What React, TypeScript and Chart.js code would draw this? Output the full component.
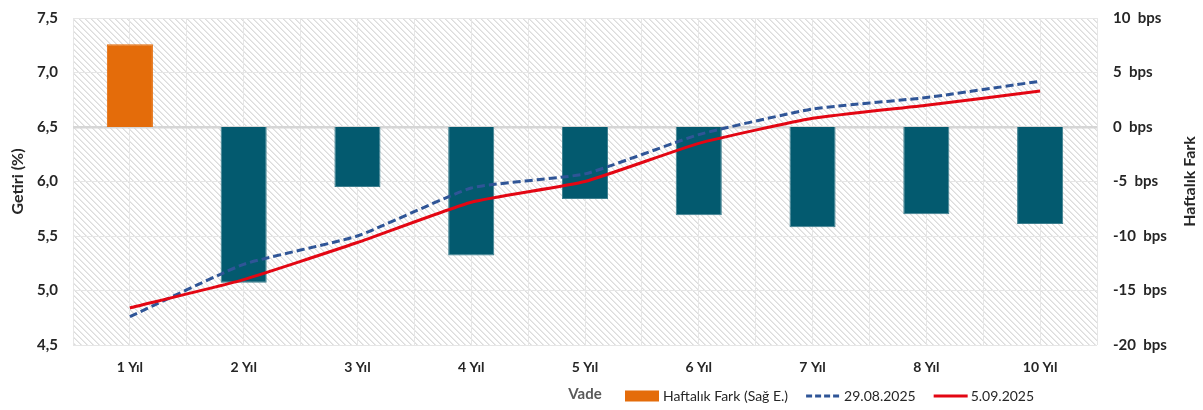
import React, { useEffect, useRef } from 'react';
import { Chart, registerables } from 'chart.js';

Chart.register(...registerables);

const categories = ['1 Yıl', '2 Yıl', '3 Yıl', '4 Yıl', '5 Yıl', '6 Yıl', '7 Yıl', '8 Yıl', '10 Yıl'];
const weeklyDiffBps = [7.6, -14.3, -5.5, -11.8, -6.6, -8.1, -9.2, -8.0, -8.9];
const yield2908 = [4.76, 5.24, 5.5, 5.94, 6.07, 6.43, 6.665, 6.77, 6.92];
const yield0509 = [4.84, 5.1, 5.44, 5.81, 6.0, 6.35, 6.58, 6.7, 6.83];
const leftTickValues = [4.5, 5.0, 5.5, 6.0, 6.5, 7.0, 7.5];
const rightTickValues = [-20, -15, -10, -5, 0, 5, 10];

const barLabel = 'Haftalık Fark (Sağ E.)';
const line1Label = '29.08.2025';
const line2Label = '5.09.2025';
const leftTitle = 'Getiri (%)';
const rightTitle = 'Haftalık Fark';
const xTitle = 'Vade';

const ORANGE = '#E46C0A';
const TEAL = '#035A6F';
const BLUE = '#2F5597';
const RED = '#E30613';
const TEXT = '#262626';
const FONT = 'Lato';

function makePattern(): CanvasPattern | string {
  const c = document.createElement('canvas');
  const n = 6;
  c.width = n;
  c.height = n;
  const g = c.getContext('2d');
  if (!g) return '#f3f3f3';
  const img = g.createImageData(n, n);
  for (let y = 0; y < n; y++) {
    for (let x = 0; x < n; x++) {
      const d = (x - y + n * 4) % n;
      const v = d === 0 ? 220 : d === 1 ? 234 : 255;
      const i = (y * n + x) * 4;
      img.data[i] = v;
      img.data[i + 1] = v;
      img.data[i + 2] = v;
      img.data[i + 3] = 255;
    }
  }
  g.putImageData(img, 0, 0);
  const p = g.createPattern(c, 'repeat');
  return p || '#f3f3f3';
}

export default function App() {
  const ref = useRef<HTMLCanvasElement | null>(null);

  useEffect(() => {
    if (!ref.current) return;
    const pattern = makePattern();

    const bgPlugin = {
      id: 'hatchBg',
      beforeDraw(chart: any) {
        const { ctx, chartArea } = chart;
        ctx.save();
        ctx.fillStyle = pattern;
        ctx.fillRect(chartArea.left, chartArea.top, chartArea.right - chartArea.left, chartArea.bottom - chartArea.top);
        ctx.restore();
      },
    };

    const extrasPlugin = {
      id: 'extras',
      afterDraw(chart: any) {
        const { ctx, chartArea } = chart;
        ctx.save();
        const rx = chart.scales.y1.right - 13;
        ctx.translate(rx, (chartArea.top + chartArea.bottom) / 2);
        ctx.rotate(-Math.PI / 2);
        ctx.font = `bold 16px ${FONT}`;
        ctx.fillStyle = TEXT;
        ctx.textAlign = 'center';
        ctx.textBaseline = 'middle';
        ctx.fillText(rightTitle, 0, 0);
        ctx.restore();

        const ds = chart.data.datasets;
        ctx.save();
        ctx.font = `14px ${FONT}`;
        ctx.textBaseline = 'middle';
        ctx.textAlign = 'left';
        const cy = 396;
        let x = 625;
        const sw = 34;
        ctx.fillStyle = ORANGE;
        ctx.fillRect(x, cy - 5.5, sw, 11);
        x += sw + 4;
        ctx.fillStyle = TEXT;
        ctx.fillText(ds[0].label, x, cy);
        x += ctx.measureText(ds[0].label).width + 18;
        ctx.strokeStyle = BLUE;
        ctx.lineWidth = 3;
        ctx.setLineDash([6, 3]);
        ctx.beginPath();
        ctx.moveTo(x, cy);
        ctx.lineTo(x + sw, cy);
        ctx.stroke();
        x += sw + 4;
        ctx.fillText(ds[1].label, x, cy);
        x += ctx.measureText(ds[1].label).width + 18;
        ctx.setLineDash([]);
        ctx.strokeStyle = RED;
        ctx.beginPath();
        ctx.moveTo(x, cy);
        ctx.lineTo(x + sw, cy);
        ctx.stroke();
        x += sw + 3;
        ctx.fillText(ds[2].label, x, cy);
        ctx.restore();
      },
    };

    const tickFont = { family: FONT, size: 15, weight: 'bold' as const };

    const chart = new Chart(ref.current, {
      type: 'bar',
      data: {
        labels: categories,
        datasets: [
          {
            type: 'bar',
            label: barLabel,
            data: weeklyDiffBps,
            yAxisID: 'y1',
            backgroundColor: weeklyDiffBps.map((v) => (v >= 0 ? ORANGE : TEAL)),
            borderColor: weeklyDiffBps.map((v) => (v >= 0 ? ORANGE : '#3d7f8f')),
            borderWidth: 1,
            categoryPercentage: 1,
            barPercentage: 0.405,
            order: 3,
          } as any,
          {
            type: 'line',
            label: line1Label,
            data: yield2908,
            yAxisID: 'y',
            borderColor: BLUE,
            borderWidth: 3,
            borderDash: [8, 4],
            pointRadius: 0,
            tension: 0.15,
            fill: false,
            order: 2,
          } as any,
          {
            type: 'line',
            label: line2Label,
            data: yield0509,
            yAxisID: 'y',
            borderColor: RED,
            borderWidth: 3,
            pointRadius: 0,
            tension: 0.15,
            fill: false,
            order: 1,
          } as any,
        ],
      },
      options: {
        responsive: true,
        maintainAspectRatio: false,
        animation: false,
        layout: { padding: { left: 5, right: 0, top: 18, bottom: 0 } },
        plugins: {
          legend: { display: false },
          tooltip: { enabled: false },
        },
        scales: {
          x: {
            type: 'category',
            position: 'bottom',
            offset: true,
            grid: { offset: false, color: '#e6e6e6', lineWidth: 1, drawTicks: false },
            border: { display: false },
            ticks: { font: { family: FONT, size: 14, weight: 'bold' }, color: TEXT, padding: 14, maxRotation: 0, autoSkip: false },
            title: {
              display: true,
              text: xTitle,
              color: '#595959',
              font: { family: FONT, size: 15, weight: 'bold' },
              padding: { top: 0, bottom: 7 },
            },
            afterFit: (s: any) => {
              s.height = 65;
              s.paddingLeft = 0;
              s.paddingRight = 0;
            },
          },
          x2: {
            type: 'category',
            position: 'bottom',
            offset: true,
            grid: { offset: true, color: '#e6e6e6', lineWidth: 1, drawTicks: false },
            border: { display: false },
            ticks: { display: false },
            afterFit: (s: any) => {
              s.height = 0;
              s.paddingLeft = 0;
              s.paddingRight = 0;
            },
          },
          y: {
            type: 'linear',
            position: 'left',
            min: 4.5,
            max: 7.5,
            afterBuildTicks: (s: any) => {
              s.ticks = leftTickValues.map((v) => ({ value: v }));
            },
            grid: {
              drawTicks: false,
              color: (c: any) => (c.tick && Math.abs(c.tick.value - 6.5) < 1e-6 ? '#d6d6d6' : '#e6e6e6'),
              lineWidth: (c: any) => (c.tick && Math.abs(c.tick.value - 6.5) < 1e-6 ? 2.5 : 1),
            },
            border: { display: false },
            ticks: {
              font: tickFont,
              color: TEXT,
              padding: 15,
              callback: (v: any) => Number(v).toFixed(1).replace('.', ','),
            },
            title: {
              display: true,
              text: leftTitle,
              color: TEXT,
              font: { family: FONT, size: 16, weight: 'bold' },
              padding: { top: 3, bottom: 0 },
            },
            afterFit: (s: any) => {
              s.width = 68;
              s.paddingTop = 0;
              s.paddingBottom = 0;
            },
          },
          y1: {
            type: 'linear',
            position: 'right',
            min: -20,
            max: 10,
            afterBuildTicks: (s: any) => {
              s.ticks = rightTickValues.map((v) => ({ value: v }));
            },
            grid: { display: false, drawTicks: false },
            border: { display: false },
            ticks: {
              font: tickFont,
              color: TEXT,
              padding: 16,
              callback: (v: any) => `${v}  bps`,
            },
            afterFit: (s: any) => {
              s.width = 106;
              s.paddingTop = 0;
              s.paddingBottom = 0;
            },
          },
        },
      } as any,
      plugins: [bgPlugin, extrasPlugin],
    });

    return () => {
      chart.destroy();
    };
  }, []);

  return (
    <div style={{ position: 'fixed', left: 0, top: 0, width: 1203, height: 410, background: '#fff' }}>
      <canvas ref={ref} />
    </div>
  );
}
